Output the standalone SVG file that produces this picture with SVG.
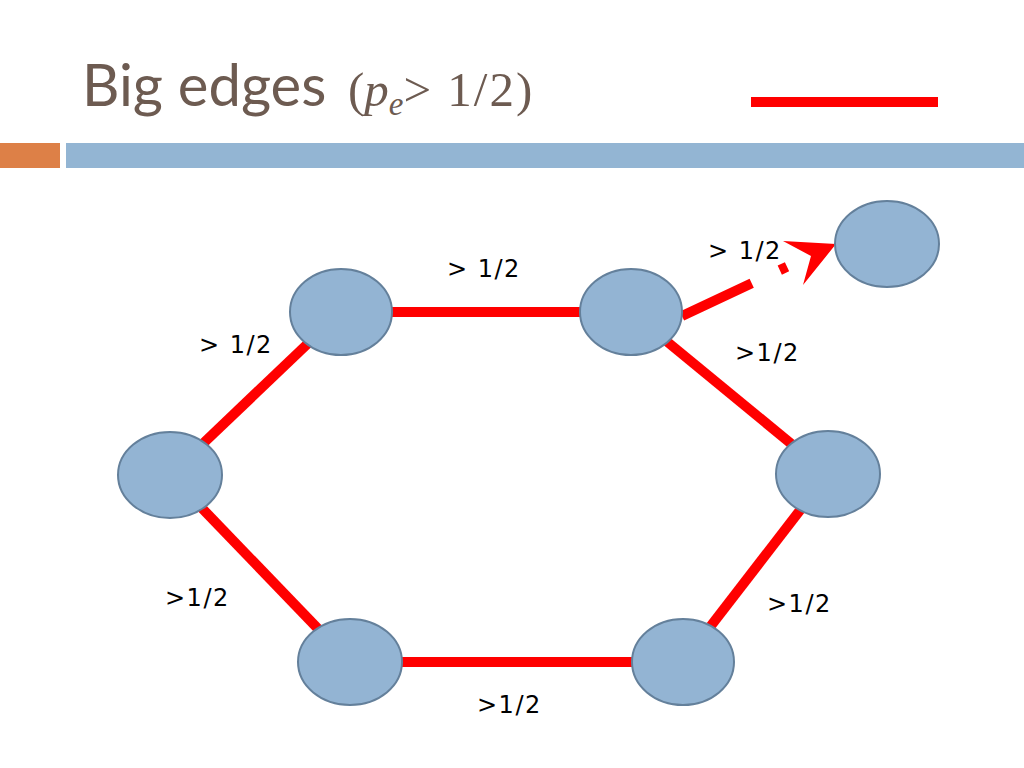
<svg xmlns="http://www.w3.org/2000/svg" width="1024" height="768" viewBox="0 0 1024 768">
<style>
.node{fill:#93B4D3;stroke:#64809B;stroke-width:2}
.edge{stroke:#FF0000;stroke-width:10;fill:none}
.lbl{font-family:"DejaVu Sans","Liberation Sans",sans-serif;font-size:24px;letter-spacing:1.5px;fill:#000}
.title{font-family:Lato,"Liberation Sans",sans-serif;font-size:58px;fill:#6D5B51}
.math{font-family:"Liberation Serif","DejaVu Serif",serif;fill:#6D5B51}
</style>
<rect width="1024" height="768" fill="#fff"/>
<g id="header">
<rect x="0" y="143" width="60" height="25" fill="#DD8047"/>
<rect x="66" y="143" width="958" height="25" fill="#93B5D3"/>
<text class="title" x="82" y="106">Big edges</text>
<text class="math" x="348" y="106" font-size="49">(<tspan font-style="italic">p</tspan><tspan font-style="italic" font-size="33" dy="9">e</tspan><tspan dy="-9" letter-spacing="2">&gt; 1/2)</tspan></text>
<line x1="751" y1="102" x2="938" y2="102" stroke="#FF0000" stroke-width="10"/>
</g>
<g id="connectors">
<line class="edge" x1="170" y1="475" x2="341" y2="312"/>
<line class="edge" x1="341" y1="312" x2="631" y2="312"/>
<line class="edge" x1="631" y1="312" x2="828" y2="474"/>
<line class="edge" x1="828" y1="474" x2="683" y2="662"/>
<line class="edge" x1="683" y1="662" x2="350" y2="662"/>
<line class="edge" x1="350" y1="662" x2="170" y2="475"/>
<path class="edge" d="M682,316 L812,255" stroke-dasharray="77 31 8 200"/>
<polygon points="836,244 783,241 811,256 803,285" fill="#FF0000"/>
</g>
<g id="n0"><ellipse class="node" cx="170" cy="475" rx="52" ry="43"/></g>
<g id="n1"><ellipse class="node" cx="341" cy="312" rx="51" ry="43"/></g>
<g id="n2"><ellipse class="node" cx="631" cy="312" rx="51" ry="43"/></g>
<g id="n3"><ellipse class="node" cx="828" cy="474" rx="52" ry="43"/></g>
<g id="n4"><ellipse class="node" cx="683" cy="662" rx="51" ry="43"/></g>
<g id="n5"><ellipse class="node" cx="350" cy="662" rx="52" ry="43"/></g>
<g id="n6"><ellipse class="node" cx="887" cy="244" rx="52" ry="43"/></g>
<g id="labels">
<text class="lbl" x="447" y="277">&gt; 1/2</text>
<text class="lbl" x="199" y="353">&gt; 1/2</text>
<text class="lbl" x="708" y="259">&gt; 1/2</text>
<text class="lbl" x="735" y="361">&gt;1/2</text>
<text class="lbl" x="165" y="606">&gt;1/2</text>
<text class="lbl" x="767" y="612">&gt;1/2</text>
<text class="lbl" x="477" y="713">&gt;1/2</text>
</g>
</svg>
